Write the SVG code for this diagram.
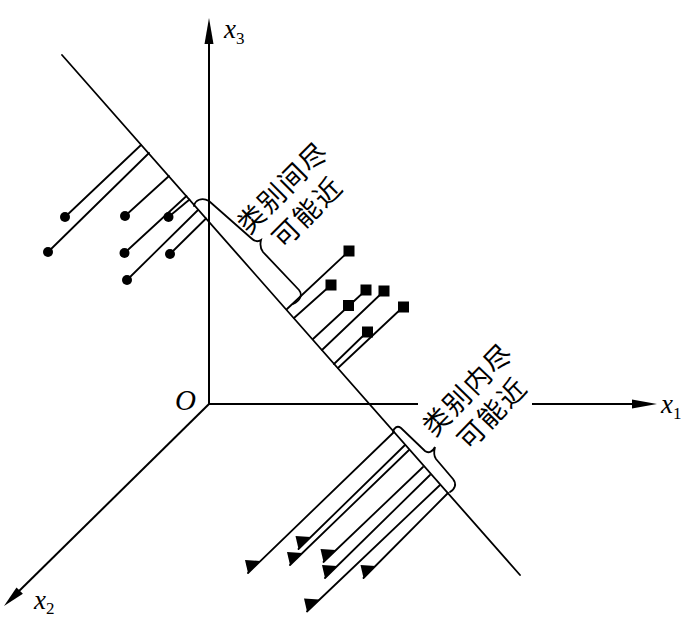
<svg xmlns="http://www.w3.org/2000/svg" width="684" height="621" viewBox="0 0 684 621">
<style>
.ln{stroke:#000;stroke-width:1.8;fill:none;stroke-linecap:round}
.ax{stroke:#000;stroke-width:2;fill:none}
.dot{fill:#000}
.sq{fill:#000}
.lbl{font-family:"Liberation Serif",serif;font-style:italic;font-size:27px;fill:#000}
.sub{font-style:normal;font-size:17px}
.cn{font-family:"Noto Sans CJK SC",sans-serif;font-size:27px;letter-spacing:2px;fill:#000;text-anchor:middle}
</style>
<defs>
<marker id="tri" markerUnits="userSpaceOnUse" markerWidth="30" markerHeight="30" viewBox="-15 -15 30 30" refX="0" refY="0" orient="0" overflow="visible">
<path d="M0,0 L-3,-13 L12,-12 Z" fill="#000"/>
</marker>
</defs>
<rect width="684" height="621" fill="#fff"/>
<g id="axes">
<line class="ax" x1="209" y1="404" x2="209" y2="36"/>
<polygon points="209,18 204.5,44 213.5,44" fill="#000"/>
<line class="ax" x1="209" y1="404" x2="418" y2="404"/>
<line class="ax" x1="532" y1="404" x2="640" y2="404"/>
<polygon points="657,404 632,399.5 632,408.5" fill="#000"/>
<line class="ax" x1="209" y1="404" x2="14" y2="596"/>
<polygon points="4,606 22.9,593.8 16.5,587.4" fill="#000"/>
</g>
<g id="labels">
<text class="lbl" x="224" y="38">x<tspan class="sub" dy="6">3</tspan></text>
<text class="lbl" x="661" y="413">x<tspan class="sub" dy="6">1</tspan></text>
<text class="lbl" x="34" y="609">x<tspan class="sub" dy="5">2</tspan></text>
<text class="lbl" x="175" y="410" style="font-size:29px">O</text>
</g>
<g id="projection-line">
<line class="ln" x1="62" y1="55" x2="520" y2="575"/>
</g>
<g id="connectors">
<line class="ln" x1="141" y1="145" x2="65" y2="217"/>
<line class="ln" x1="149" y1="153" x2="48" y2="252"/>
<line class="ln" x1="169" y1="176" x2="125" y2="216"/>
<line class="ln" x1="186.5" y1="196" x2="124.5" y2="253"/>
<line class="ln" x1="189.5" y1="199.5" x2="168.5" y2="217"/>
<line class="ln" x1="198" y1="210" x2="127" y2="280"/>
<line class="ln" x1="206" y1="218.5" x2="170" y2="254"/>
<line class="ln" x1="287" y1="309" x2="349" y2="251"/>
<line class="ln" x1="294" y1="318" x2="331" y2="285"/>
<line class="ln" x1="313" y1="339" x2="366" y2="290"/>
<line class="ln" x1="322" y1="350" x2="384" y2="291"/>
<line class="ln" x1="334" y1="364" x2="367" y2="332"/>
<line class="ln" x1="338" y1="368" x2="403" y2="307"/>
<line class="ln" x1="394" y1="432" x2="248" y2="573" marker-end="url(#tri)"/>
<line class="ln" x1="405" y1="445" x2="298.5" y2="549" marker-end="url(#tri)"/>
<line class="ln" x1="409" y1="450" x2="290" y2="565" marker-end="url(#tri)"/>
<line class="ln" x1="423" y1="467" x2="323.5" y2="562" marker-end="url(#tri)"/>
<line class="ln" x1="430" y1="475" x2="325" y2="578" marker-end="url(#tri)"/>
<line class="ln" x1="440" y1="485" x2="307" y2="611.5" marker-end="url(#tri)"/>
<line class="ln" x1="448" y1="493" x2="363.5" y2="578" marker-end="url(#tri)"/>
</g>
<g id="class1-dots">
<circle class="dot" cx="65" cy="217" r="5"/>
<circle class="dot" cx="48" cy="252" r="5"/>
<circle class="dot" cx="125" cy="216" r="5"/>
<circle class="dot" cx="168.5" cy="217" r="5"/>
<circle class="dot" cx="124.5" cy="253" r="5"/>
<circle class="dot" cx="170" cy="254" r="5"/>
<circle class="dot" cx="127" cy="280" r="5"/>
</g>
<g id="class2-squares">
<rect class="sq" x="343.5" y="245.5" width="11" height="11"/>
<rect class="sq" x="325.5" y="279.5" width="11" height="11"/>
<rect class="sq" x="360.5" y="284.5" width="11" height="11"/>
<rect class="sq" x="378.5" y="285.5" width="11" height="11"/>
<rect class="sq" x="343" y="300" width="11" height="11"/>
<rect class="sq" x="398" y="301.5" width="11" height="11"/>
<rect class="sq" x="362" y="326.5" width="11" height="11"/>
</g>
<g id="brace-between">
<path class="ln" d="M194,206 C195,200 202,197 209,201 L251,238 C255,242 258,242 261,240 C260,244 260,248 263,252 L299,290 C303,295 300,301 293,304"/>
</g>
<g id="brace-within">
<path class="ln" d="M393,432 C394,428 397,425 401,428 L425,451 C429,454 433,451 435,447 C434,451 433,455 436,459 L453,479 C457,484 455,489 450,492"/>
</g>
<g id="text-between" transform="translate(282,188) rotate(-45)">
<text class="cn" x="1" y="10">类别间尽</text>
<text class="cn" x="1" y="45">可能近</text>
</g>
<g id="text-within" transform="translate(467,390) rotate(-46)">
<text class="cn" x="1" y="10">类别内尽</text>
<text class="cn" x="1" y="44">可能近</text>
</g>
</svg>
